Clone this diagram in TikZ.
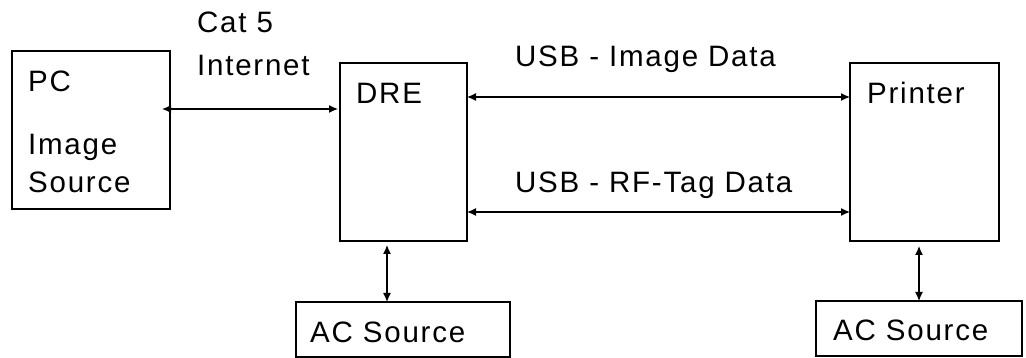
\documentclass[tikz,border=0pt]{standalone}
\usepackage{fontspec}
\setmainfont[LetterSpace=6]{Liberation Sans}
\usetikzlibrary{arrows.meta}
\begin{document}
\begin{tikzpicture}[x=1pt,y=-1pt,
  box/.style={draw,line width=1.3pt,anchor=north west,inner sep=0pt,outer sep=0pt},
  lbl/.style={anchor=base west,inner sep=0pt,font=\fontsize{29.5}{36}\selectfont},
  link/.style={line width=1.3pt,{Latex[length=9pt,width=8pt]}-{Latex[length=9pt,width=8pt]}}]
\useasboundingbox (0,0) rectangle (1026,358);
% boxes
\node[box,minimum width=158pt,minimum height=158pt] (pc) at (12,51) {};
\node[box,minimum width=127pt,minimum height=178pt] (dre) at (340,63) {};
\node[box,minimum width=149pt,minimum height=178pt] (prn) at (850,63) {};
\node[box,minimum width=214pt,minimum height=55pt] (ac1) at (296,302) {};
\node[box,minimum width=206pt,minimum height=55pt] (ac2) at (816,301) {};
% labels
\node[lbl] (cat) at (197,33) {Cat 5};
\node[lbl] (inet) at (197,76) {Internet};
\node[lbl] (pct) at (28,92) {PC};
\node[lbl] (img) at (28,155) {Image};
\node[lbl] (src) at (28,193) {Source};
\node[lbl] (dret) at (356,104) {DRE};
\node[lbl] (usb1) at (515,67) {USB - Image Data};
\node[lbl] (usb2) at (515,193) {USB - RF-Tag Data};
\node[lbl] (prnt) at (867,104) {Printer};
\node[lbl] (ac1t) at (310,342) {AC Source};
\node[lbl] (ac2t) at (833,340) {AC Source};
% connectors
\draw[link] ([shift={(-8,58)}]pc.north east) -- ([shift={(-2,46)}]dre.north west);
\draw[link] ([shift={(0,34)}]dre.north east) -- ([shift={(0,34)}]prn.north west);
\draw[link] ([shift={(0,149)}]dre.north east) -- ([shift={(0,149)}]prn.north west);
\draw[link] ([shift={(47,4)}]dre.south west) -- ([shift={(91,0)}]ac1.north west);
\draw[link] ([shift={(69,5)}]prn.south west) -- ([shift={(103,0)}]ac2.north west);
\end{tikzpicture}
\end{document}
